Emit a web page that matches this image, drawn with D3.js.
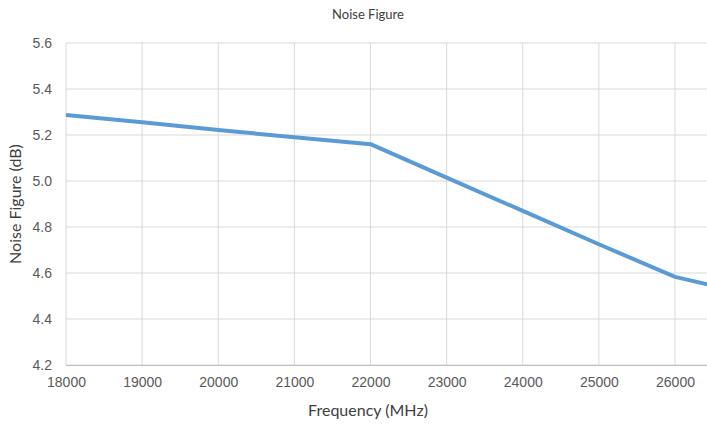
<!DOCTYPE html>
<html lang="en">
<head>
    <meta charset="UTF-8">
    <title>Noise Figure</title>
    <style>
        html, body { margin: 0; padding: 0; background: #fff; }
        svg { display: block; font-family: Lato, "Open Sans", sans-serif; }
        .grid line { stroke: #d9d9d9; stroke-width: 1; }
        .tick text { fill: #595959; font-size: 14px; }
    </style>
</head>
<body>
    <svg id="chart" width="707" height="424"></svg>
    <script src="https://d3js.org/d3.v7.min.js"></script>
    <script>
        // Daten
        var frequency = [18000, 19000, 20000, 21000, 22000, 23000, 24000, 25000, 26000, 26500];
        var noiseFigure = [5.287, 5.255, 5.222, 5.19, 5.16, 5.015, 4.87, 4.725, 4.583, 4.545];
        var xTicks = [18000, 19000, 20000, 21000, 22000, 23000, 24000, 25000, 26000];
        var yTicks = [4.2, 4.4, 4.6, 4.8, 5.0, 5.2, 5.4, 5.6];

        var svg = d3.select("#chart");
        var plotLeft = 66, plotTop = 43, plotBottom = 365;

        var x = d3.scaleLinear().domain([18000, 26000]).range([plotLeft, 675]);
        var y = d3.scaleLinear().domain([4.2, 5.6]).range([plotBottom, plotTop]);

        // Gitterlinien
        var grid = svg.append("g").attr("class", "grid");
        grid.selectAll("line.h").data(yTicks).join("line")
            .attr("class", "h")
            .attr("x1", plotLeft).attr("x2", 707)
            .attr("y1", d => y(d)).attr("y2", d => y(d));
        grid.selectAll("line.v").data(xTicks).join("line")
            .attr("class", "v")
            .attr("x1", d => x(d)).attr("x2", d => x(d))
            .attr("y1", plotTop).attr("y2", plotBottom);

        // Achsen
        var xAxis = svg.append("g")
            .attr("transform", "translate(0," + plotBottom + ")")
            .call(d3.axisBottom(x).tickValues(xTicks).tickSize(0).tickPadding(12).tickFormat(d3.format("d")));
        xAxis.select(".domain").attr("stroke", "#bfbfbf").attr("d", "M" + plotLeft + ",0.5H707");

        var yAxis = svg.append("g")
            .attr("transform", "translate(" + plotLeft + ",0)")
            .call(d3.axisLeft(y).tickValues(yTicks).tickSize(0).tickPadding(14).tickFormat(d3.format(".1f")));
        yAxis.select(".domain").remove();

        // Linie
        var line = d3.line().x((d, i) => x(frequency[i])).y(d => y(d));
        svg.append("path")
            .datum(noiseFigure)
            .attr("fill", "none")
            .attr("stroke", "#5b9bd5")
            .attr("stroke-width", 4)
            .attr("stroke-linejoin", "round")
            .attr("d", line);

        // Titel
        svg.append("text")
            .attr("x", 368).attr("y", 19)
            .attr("text-anchor", "middle")
            .attr("fill", "#404040")
            .style("font-size", "13px")
            .text("Noise Figure");

        svg.append("text")
            .attr("x", 368).attr("y", 416)
            .attr("text-anchor", "middle")
            .attr("fill", "#404040")
            .style("font-size", "16px")
            .text("Frequency (MHz)");

        svg.append("text")
            .attr("transform", "translate(21,204) rotate(-90)")
            .attr("text-anchor", "middle")
            .attr("fill", "#404040")
            .style("font-size", "16px")
            .text("Noise Figure (dB)");
    </script>
</body>
</html>
